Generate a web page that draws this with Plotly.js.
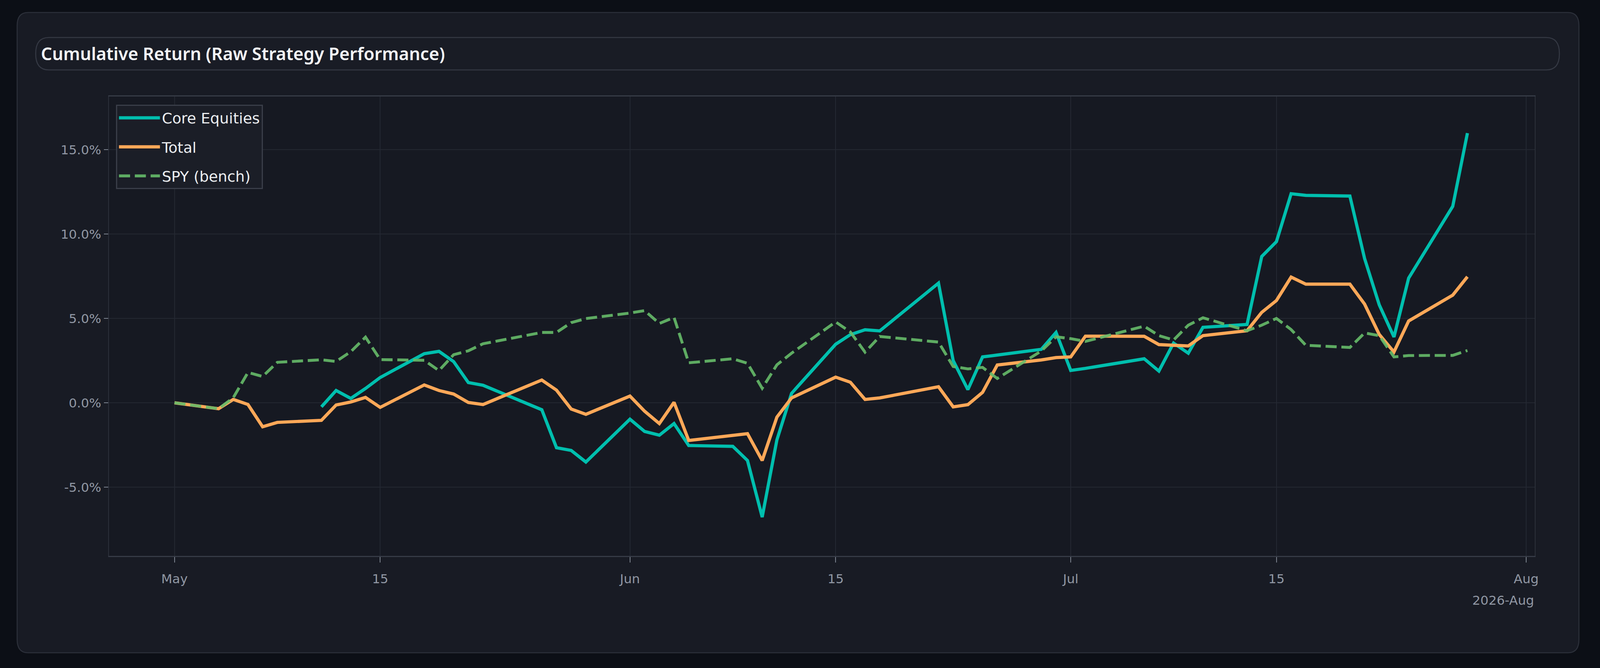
<!DOCTYPE html>
<html>
<head>
<meta charset="utf-8">
<script src="https://cdn.plot.ly/plotly-3.0.1.min.js"></script>
<style>
  html, body { margin: 0; padding: 0; background: #0c0f16; overflow: hidden; }
  #chart { position: absolute; left: 0; top: 0; }
</style>
</head>
<body>
<div id="chart"></div>
<script>
// trading days, May - Jul 2026
var dates = [
  '2026-05-01','2026-05-04','2026-05-05','2026-05-06','2026-05-07','2026-05-08',
  '2026-05-11','2026-05-12','2026-05-13','2026-05-14','2026-05-15',
  '2026-05-18','2026-05-19','2026-05-20','2026-05-21','2026-05-22',
  '2026-05-26','2026-05-27','2026-05-28','2026-05-29',
  '2026-06-01','2026-06-02','2026-06-03','2026-06-04','2026-06-05',
  '2026-06-08','2026-06-09','2026-06-10','2026-06-11','2026-06-12',
  '2026-06-15','2026-06-16','2026-06-17','2026-06-18',
  '2026-06-22','2026-06-23','2026-06-24','2026-06-25','2026-06-26',
  '2026-06-29','2026-06-30','2026-07-01','2026-07-02',
  '2026-07-06','2026-07-07','2026-07-08','2026-07-09','2026-07-10',
  '2026-07-13','2026-07-14','2026-07-15','2026-07-16','2026-07-17',
  '2026-07-20','2026-07-21','2026-07-22','2026-07-23','2026-07-24',
  '2026-07-27','2026-07-28'
];

// cumulative return, % (Core Equities has no data before May 11)
var coreEquities = [
  null, null, null, null, null, null,
  -0.24, 0.73, 0.26, 0.85, 1.50,
  2.91, 3.05, 2.44, 1.20, 1.04,
  -0.41, -2.66, -2.82, -3.51,
  -0.97, -1.70, -1.92, -1.23, -2.53,
  -2.58, -3.42, -6.77, -2.20, 0.56,
  3.47, 4.04, 4.33, 4.26,
  7.09, 2.50, 0.78, 2.72, 2.83,
  3.17, 4.17, 1.92, 2.04,
  2.61, 1.88, 3.54, 2.94, 4.47,
  4.64, 8.67, 9.55, 12.39, 12.29,
  12.25, 8.55, 5.80, 3.90, 7.39,
  11.64, 15.98
];
var total = [
  0.00, -0.35, 0.20, -0.10, -1.42, -1.16,
  -1.04, -0.13, 0.05, 0.32, -0.27,
  1.06, 0.73, 0.52, 0.02, -0.10,
  1.35, 0.75, -0.37, -0.68,
  0.40, -0.50, -1.23, 0.03, -2.23,
  -1.96, -1.83, -3.42, -0.85, 0.29,
  1.52, 1.22, 0.20, 0.29,
  0.95, -0.24, -0.11, 0.62, 2.24,
  2.54, 2.68, 2.72, 3.95,
  3.94, 3.45, 3.41, 3.37, 3.98,
  4.27, 5.36, 6.06, 7.45, 7.03,
  7.03, 5.85, 4.05, 3.01, 4.85,
  6.38, 7.47
];
var spyBench = [
  0.00, -0.35, 0.30, 1.80, 1.56, 2.40,
  2.55, 2.45, 3.03, 3.89, 2.56,
  2.52, 1.91, 2.85, 3.08, 3.50,
  4.17, 4.17, 4.75, 4.99,
  5.32, 5.46, 4.70, 5.06, 2.37,
  2.61, 2.34, 0.86, 2.25, 2.94,
  4.79, 4.20, 3.00, 3.93,
  3.60, 2.15, 2.01, 2.10, 1.44,
  3.07, 3.91, 3.80, 3.64,
  4.54, 3.98, 3.72, 4.60, 5.04,
  4.27, 4.60, 5.00, 4.34, 3.41,
  3.28, 4.14, 3.98, 2.72, 2.80,
  2.81, 3.10
];

var xTickVals = ['2026-05-01','2026-05-15','2026-06-01','2026-06-15','2026-07-01','2026-07-15','2026-08-01'];
var xTickText = ['May','15','Jun','15','Jul','15','Aug'];
var yTickVals = [-5, 0, 5, 10, 15];
var yTickText = ['-5.0%', '0.0%', '5.0%', '10.0%', '15.0%'];

// layout measured on a 5000 x 1710 canvas, scaled to whatever window we get
var W = window.innerWidth || 5000;
var H = window.innerHeight || 1710;
var sx = W / 5000, sy = H / 1710;
var fs = Math.pow(sx, 0.75) * Math.pow(sy, 0.25);   // font / stroke scale

var ML = 341 * sx, MR = 204 * sx, MT = 247 * sy, MB = 287 * sy;
var PW = W - ML - MR, PH = H - MT - MB;

// canvas pixel -> paper coords
function toPaper(px, py) {
  return ((px * sx - ML) / PW).toFixed(5) + ',' + ((MT + PH - py * sy) / PH).toFixed(5);
}

function roundRect(x0, y0, x1, y1, r) {
  return 'M' + toPaper(x0 + r, y0) +
    ' L' + toPaper(x1 - r, y0) +
    ' Q' + toPaper(x1, y0) + ' ' + toPaper(x1, y0 + r) +
    ' L' + toPaper(x1, y1 - r) +
    ' Q' + toPaper(x1, y1) + ' ' + toPaper(x1 - r, y1) +
    ' L' + toPaper(x0 + r, y1) +
    ' Q' + toPaper(x0, y1) + ' ' + toPaper(x0, y1 - r) +
    ' L' + toPaper(x0, y0 + r) +
    ' Q' + toPaper(x0, y0) + ' ' + toPaper(x0 + r, y0) + ' Z';
}

var trace1 = {
  x: dates,
  y: coreEquities,
  name: 'Core Equities',
  type: 'scatter',
  mode: 'lines',
  connectgaps: false,
  legendgroup: 'a',
  hoverinfo: 'x+y',
  line: { color: '#00BFAE', width: 9.5 * fs }
};
var trace2 = {
  x: dates,
  y: total,
  name: 'Total',
  type: 'scatter',
  mode: 'lines',
  legendgroup: 'b',
  hoverinfo: 'x+y',
  line: { color: '#FFA858', width: 9.5 * fs }
};
var trace3 = {
  x: dates,
  y: spyBench,
  name: 'SPY (bench)',
  type: 'scatter',
  mode: 'lines',
  legendgroup: 'c',
  hoverinfo: 'x+y',
  opacity: 0.9,
  line: { color: '#66BB6A', width: 8.5 * fs, dash: (33 * fs).toFixed(1) + 'px,' + (14 * fs).toFixed(1) + 'px' }
};

var data = [trace1, trace2, trace3];

var tickFont = { family: 'DejaVu Sans, sans-serif', size: 38 * fs, color: '#9097a3' };

var layout = {
  width: W,
  height: H,
  paper_bgcolor: '#0c0f16',
  plot_bgcolor: 'rgba(0,0,0,0)',
  margin: { l: ML, r: MR, t: MT, b: MB, pad: 0 },
  title: {
    text: 'Cumulative Return (Raw Strategy Performance)',
    xref: 'container',
    x: 128 / 5000,
    xanchor: 'left',
    yref: 'container',
    y: 1 - 138 / 1710,
    yanchor: 'middle',
    font: { family: 'Noto Sans, sans-serif', size: 52 * fs, weight: 600, color: '#f4f5f7' }
  },
  showlegend: true,
  legend: {
    x: 22 / 4459,
    y: 1 - 21 / 1176,
    xanchor: 'left',
    yanchor: 'top',
    bgcolor: '#1b1e27',
    bordercolor: '#3a3e49',
    borderwidth: 3 * fs,
    font: { family: 'DejaVu Sans, sans-serif', size: 44 * fs, color: '#eceef1' },
    tracegroupgap: 22 * sy,
    itemwidth: 128 * sx
  },
  xaxis: {
    type: 'date',
    range: ['2026-04-26 13:00', '2026-08-01 14:00'],
    tickmode: 'array',
    tickvals: xTickVals,
    ticktext: xTickText,
    ticks: 'outside',
    ticklen: 14 * sy,
    tickwidth: 2 * fs,
    tickcolor: '#7d8490',
    tickfont: tickFont,
    ticklabelstandoff: 14 * sy,
    showgrid: true,
    gridcolor: '#242832',
    gridwidth: 2 * fs,
    showline: true,
    linecolor: '#363b46',
    linewidth: 3 * fs,
    mirror: true,
    zeroline: false
  },
  yaxis: {
    range: [-9.07, 18.15],
    tickmode: 'array',
    tickvals: yTickVals,
    ticktext: yTickText,
    ticks: 'outside',
    ticklen: 14 * sx,
    tickwidth: 2 * fs,
    tickcolor: '#7d8490',
    tickfont: tickFont,
    ticklabelstandoff: 14 * sx,
    showgrid: true,
    gridcolor: '#242832',
    gridwidth: 2 * fs,
    showline: true,
    linecolor: '#2c303a',
    linewidth: 2 * fs,
    mirror: true,
    zeroline: false
  },
  shapes: [
    // card
    {
      type: 'path', xref: 'paper', yref: 'paper', layer: 'below',
      path: roundRect(54, 32, 4934, 1671, 34),
      fillcolor: '#181b24',
      line: { color: '#2c303a', width: 3 * fs }
    },
    // plot area
    {
      type: 'rect', xref: 'paper', yref: 'paper', layer: 'below',
      x0: 0, x1: 1, y0: 0, y1: 1,
      fillcolor: '#161922',
      line: { width: 0 }
    },
    // title pill
    {
      type: 'path', xref: 'paper', yref: 'paper', layer: 'below',
      path: roundRect(112, 96, 4873, 179, 41),
      fillcolor: '#191c25',
      line: { color: '#353944', width: 3 * fs }
    }
  ],
  annotations: [
    {
      text: '2026-Aug',
      xref: 'paper', yref: 'paper',
      x: 1, y: -0.097,
      xanchor: 'right', yanchor: 'middle',
      showarrow: false,
      font: tickFont
    }
  ]
};

var config = {
  responsive: false,
  displayModeBar: false
};

Plotly.newPlot('chart', data, layout, config);
</script>
</body>
</html>
